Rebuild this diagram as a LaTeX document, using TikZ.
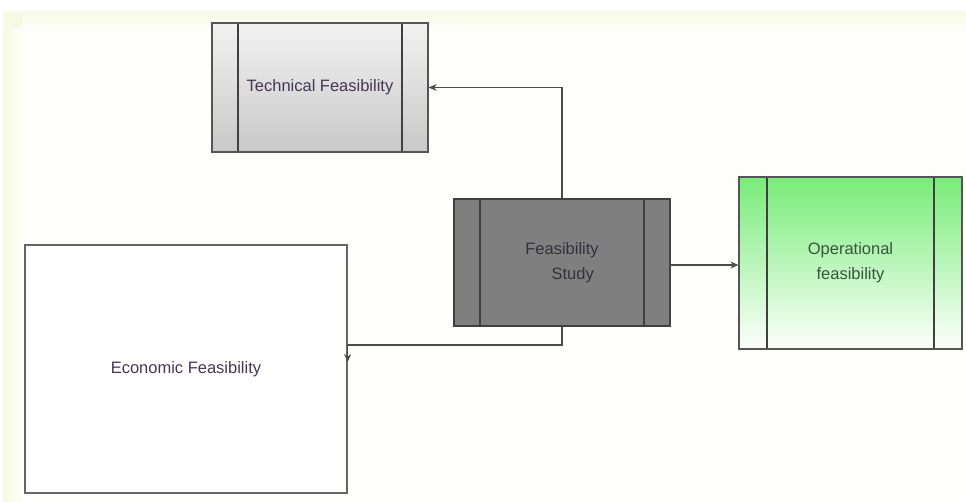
\documentclass[tikz,border=0pt]{standalone}
\usepackage{fontspec}
\setmainfont{Liberation Sans}
\usetikzlibrary{arrows.meta}
\definecolor{panelY}{RGB}{247,250,226}
\definecolor{panelIn}{RGB}{254,254,251}
\definecolor{boxline}{RGB}{85,85,85}
\definecolor{txtpurple}{RGB}{70,55,80}
\definecolor{txtdark}{RGB}{50,50,60}
\definecolor{txtgreen}{RGB}{55,85,60}
\definecolor{grayTop}{RGB}{242,242,242}
\definecolor{grayBot}{RGB}{200,200,200}
\definecolor{midgray}{RGB}{127,127,127}
\definecolor{greenTop}{RGB}{120,236,120}
\definecolor{greenBot}{RGB}{252,255,252}
\tikzset{
  procbox/.style={draw=boxline, line width=1.3pt, inner sep=0pt, font=\fontsize{16.5}{25}\selectfont, align=center},
  sidebars/.style={path picture={
    \draw[line width=1.2pt, draw=black!75] ([xshift=#1]path picture bounding box.north west) -- ([xshift=#1]path picture bounding box.south west);
    \draw[line width=1.2pt, draw=black!75] ([xshift=-#1]path picture bounding box.north east) -- ([xshift=-#1]path picture bounding box.south east);
  }},
  conn/.style={draw=black!70, line width=1.1pt, -{Stealth[length=8pt,width=7pt]}}
}
\begin{document}
\begin{tikzpicture}[x=1pt,y=-1pt]
\useasboundingbox (0,0) rectangle (966,501);
\fill[white] (0,0) rectangle (966,501);
\fill[panelY] (3,11) rectangle (966,501);
\shade[left color=panelY, right color=panelIn] (3,28) rectangle (22,501);
\shade[top color=panelY, bottom color=panelIn] (22,11) rectangle (966,30);
\fill[panelIn] (22,30) rectangle (966,501);

\node[procbox, sidebars=26pt, top color=grayTop, bottom color=grayBot,
      minimum width=216pt, minimum height=129pt, text=txtpurple]
      (tech) at (320,87.5) {Technical Feasibility};

\node[procbox, sidebars=26pt, fill=midgray, draw=black!75,
      minimum width=216pt, minimum height=127pt, text=txtdark]
      (fs) at (562,262.5) {Feasibility\\\hspace*{1.3em}Study};

\node[procbox, sidebars=28pt, top color=greenTop, bottom color=greenBot,
      minimum width=223pt, minimum height=172pt, text=txtgreen]
      (op) at (850.5,263) {Operational\\feasibility};

\node[procbox, fill=white, draw=black!60,
      minimum width=322pt, minimum height=248pt, text=txtpurple]
      (eco) at (186,369) {Economic Feasibility};

\coordinate (ecoIn) at ([yshift=-17pt]eco.east |- 0,345);

\draw[conn] (fs.north) |- (tech.east);
\draw[conn] (fs.east |- 0,265) -- (op.west |- 0,265);
\draw[conn] (fs.south) -- (562,345) -| (ecoIn);
\end{tikzpicture}
\end{document}
